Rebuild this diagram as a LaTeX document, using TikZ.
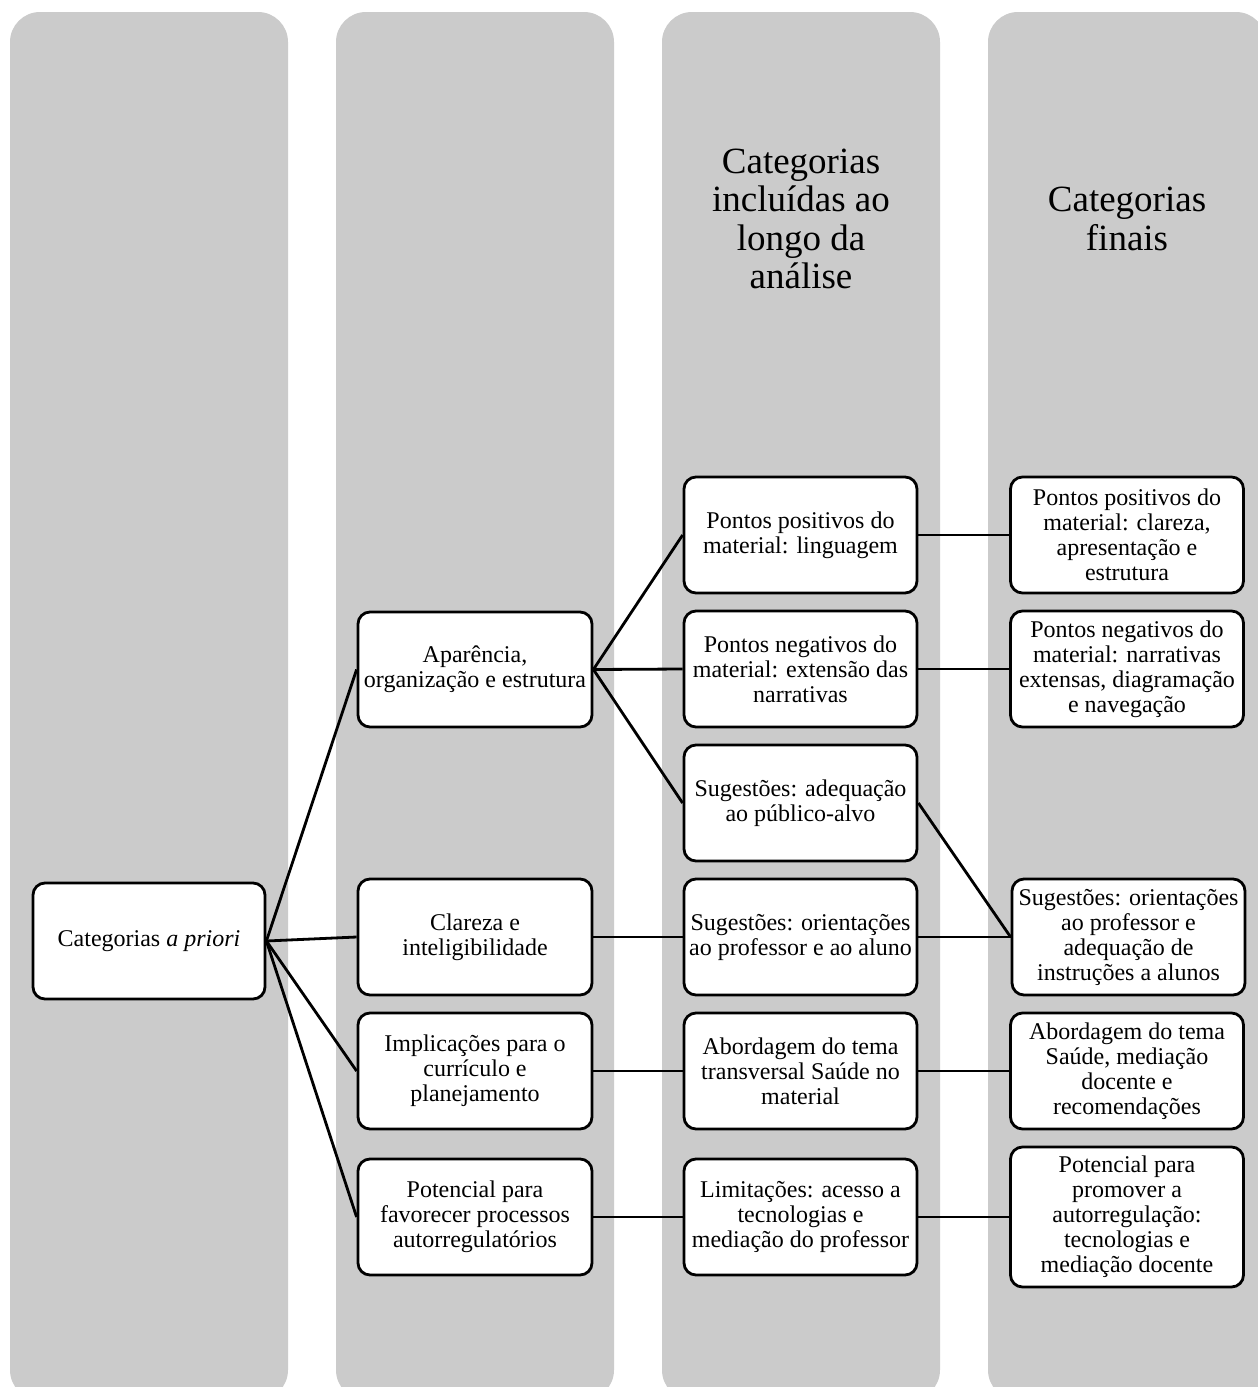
\documentclass[tikz,border=0pt]{standalone}
\usepackage{fontspec}
\setmainfont{Liberation Serif}
\definecolor{colgray}{RGB}{203,203,203}
\begin{document}
\begin{tikzpicture}[x=1pt,y=-1pt,
  column/.style={fill=colgray,draw=none,rounded corners=30pt},
  cbox/.style={draw=black,fill=white,line width=2.8pt,rounded corners=12pt,
    minimum width=233pt,minimum height=116pt,align=center,inner sep=2pt,
    font=\fontsize{24}{25}\selectfont},
  head/.style={align=center,inner sep=0pt,font=\fontsize{37}{38.5}\selectfont},
  link/.style={line width=2.8pt}]
\useasboundingbox (0,0) rectangle (1258,1387);
\clip (0,0) rectangle (1258,1387);
% columns
\fill[column] (10,12) rectangle (288,1400);
\fill[column] (336,12) rectangle (614,1400);
\fill[column] (662,12) rectangle (940,1400);
\fill[column] (988,12) rectangle (1266,1400);
% headers
\node[head] (h3) at (801,219) {Categorias\\incluídas ao\\longo da\\análise};
\node[head] (h4) at (1127,219) {Categorias\\finais};
% root
\node[cbox,minimum width=232pt] (root) at (149,941) {Categorias \textit{a priori}};
% column 2
\node[cbox,minimum width=234pt,minimum height=115pt] (ap) at (475,669.5) {Aparência,\\organização e estrutura};
\node[cbox,minimum width=234pt] (cl) at (475,937) {Clareza e\\inteligibilidade};
\node[cbox,minimum width=234pt] (im) at (475,1071) {Implicações para o\\currículo e\\planejamento};
\node[cbox,minimum width=234pt] (po) at (475,1217) {Potencial para\\favorecer processos\\autorregulatórios};
% column 3
\node[cbox] (pp) at (800.5,535) {Pontos positivos do\\material: linguagem};
\node[cbox] (pn) at (800.5,669) {Pontos negativos do\\material: extensão das\\narrativas};
\node[cbox] (sa) at (800.5,803) {Sugestões: adequação\\ao público-alvo};
\node[cbox] (so) at (800.5,937) {Sugestões: orientações\\ao professor e ao aluno};
\node[cbox] (ab) at (800.5,1071) {Abordagem do tema\\transversal Saúde no\\material};
\node[cbox] (li) at (800.5,1217) {Limitações: acesso a\\tecnologias e\\mediação do professor};
% column 4
\node[cbox] (fp) at (1127,535) {Pontos positivos do\\material: clareza,\\apresentação e\\estrutura};
\node[cbox] (fn) at (1127,669) {Pontos negativos do\\material: narrativas\\extensas, diagramação\\e navegação};
\node[cbox] (fs) at (1128.5,937) {Sugestões: orientações\\ao professor e\\adequação de\\instruções a alunos};
\node[cbox] (fa) at (1127,1071) {Abordagem do tema\\Saúde, mediação\\docente e\\recomendações};
\node[cbox,minimum height=140pt] (fpo) at (1127,1217) {Potencial para\\promover a\\autorregulação:\\tecnologias e\\mediação docente};
% connectors
\foreach \t in {ap,cl,im,po} \draw[link] (root.east) -- (\t.west);
\foreach \t in {pp,pn,sa} \draw[link] (ap.east) -- (\t.west);
\draw[link] (cl.east) -- (so.west);
\draw[link] (im.east) -- (ab.west);
\draw[link] (po.east) -- (li.west);
\draw[link] (pp.east) -- (fp.west);
\draw[link] (pn.east) -- (fn.west);
\draw[link] (sa.east) -- (fs.west);
\draw[link] (so.east) -- (fs.west);
\draw[link] (ab.east) -- (fa.west);
\draw[link] (li.east) -- (fpo.west);
\end{tikzpicture}
\end{document}
